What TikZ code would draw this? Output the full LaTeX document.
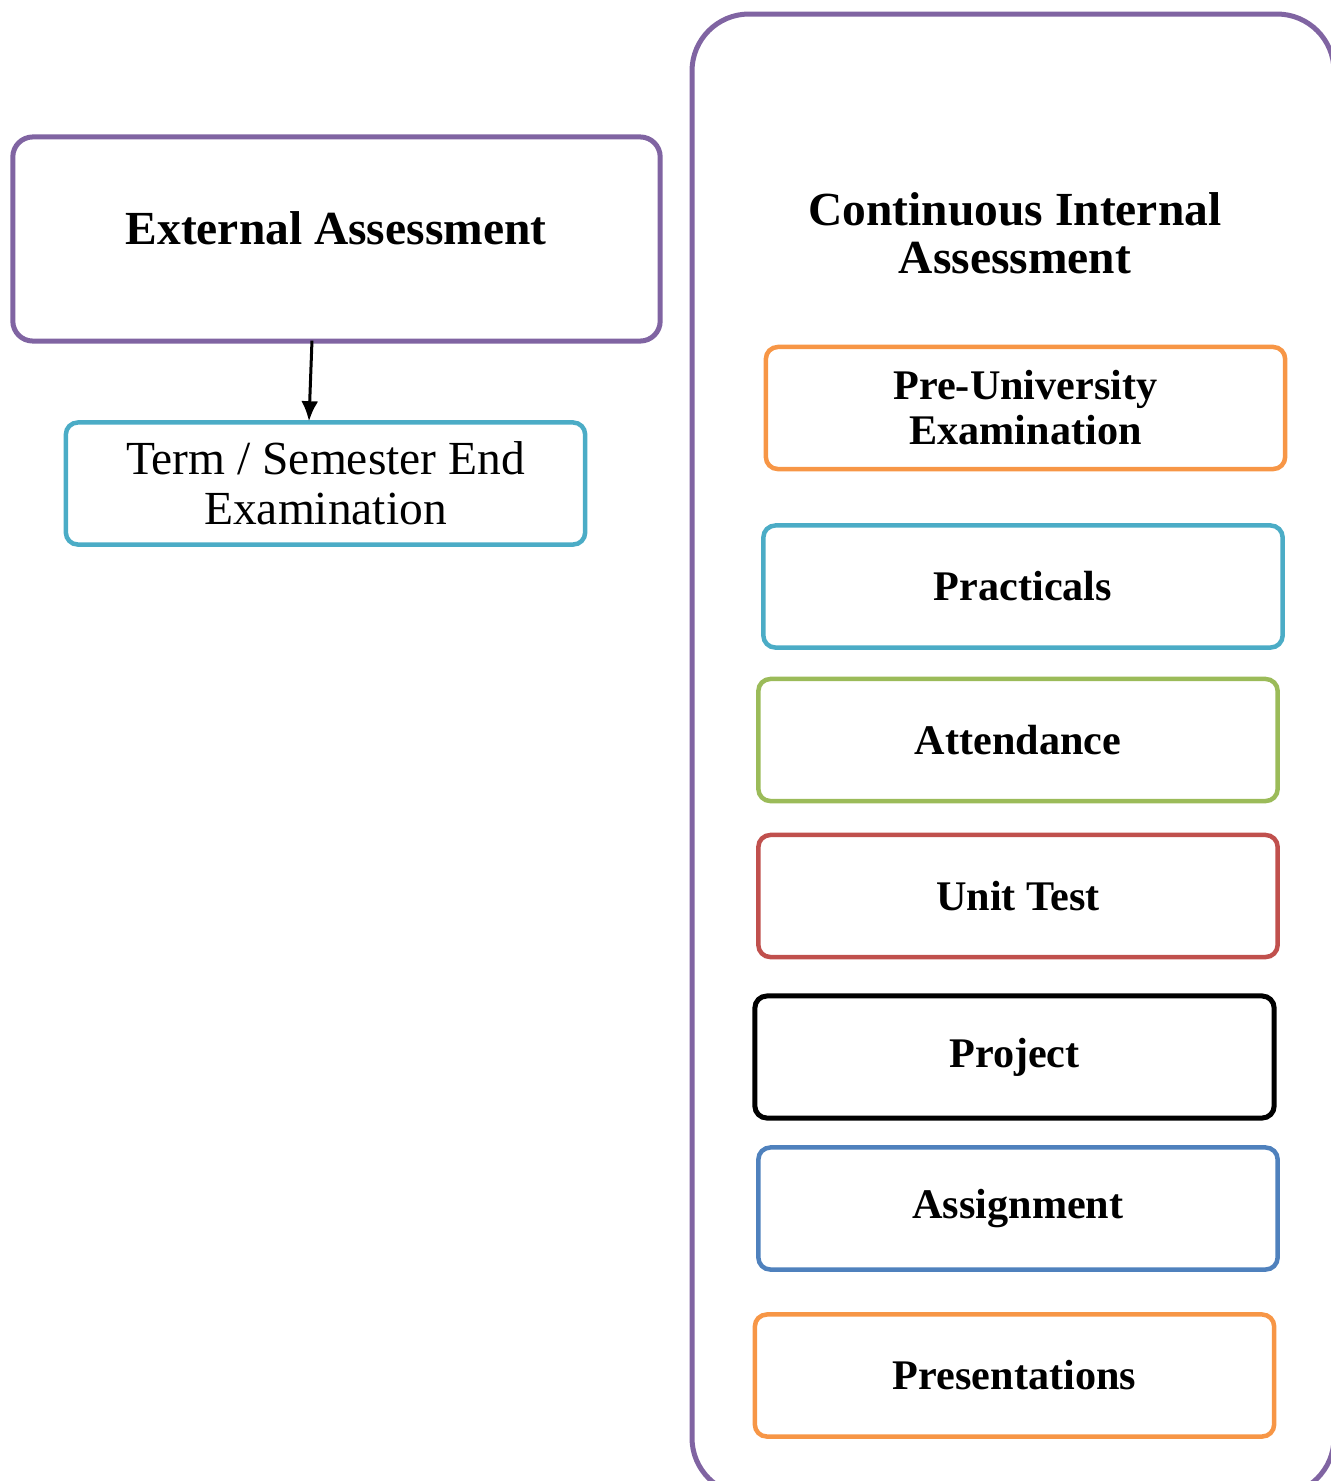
\documentclass[tikz,border=0pt]{standalone}
\usepackage{fontspec}
\setmainfont{Liberation Serif}
\usetikzlibrary{positioning, arrows.meta}
\definecolor{cpurple}{HTML}{8064A2}
\definecolor{ccyan}{HTML}{4BACC6}
\definecolor{corange}{HTML}{F79646}
\definecolor{cgreen}{HTML}{9BBB59}
\definecolor{cred}{HTML}{C0504D}
\definecolor{cblue}{HTML}{4F81BD}

\begin{document}
\begin{tikzpicture}[x=0.01cm, y=-0.01cm,
		outerbox/.style={draw=cpurple, line width=0.05cm, rounded corners=0.2cm, minimum width=6.47cm, minimum height=2.04cm},
		itembox/.style={draw=#1, line width=0.045cm, rounded corners=0.12cm, minimum width=5.19cm, minimum height=1.22cm, align=center, font=\fontsize{12}{12.8}\selectfont\bfseries},
		head/.style={align=center, font=\fontsize{13.5}{13.7}\selectfont\bfseries}]
		      \useasboundingbox (0,0) rectangle (1331,1481);
		      \node[outerbox] (ext) at (336.5,239) {};
		      \node[head] (exthead) at (336,228) {External Assessment};
		      \node[itembox=ccyan, font=\fontsize{13.5}{14.2}\selectfont] (term) at (325.5,483.5) {Term / Semester End\\Examination};
		      \draw[-{Latex[length=0.2cm, width=0.17cm]}, line width=0.03cm] ([xshift=-0.245cm, yshift=0.03cm]ext.south) -- ([xshift=-0.165cm, yshift=-0.01cm]term.north);

		      \draw[cpurple, line width=0.05cm, rounded corners=0.57cm] (692,14) rectangle (1334,1495);
		      \node[head] (cia) at (1015,233) {Continuous Internal\\Assessment};
		      \node[itembox=corange] (preuni) at (1025.5,408) {Pre-University\\Examination};
		      \node[itembox=ccyan] (prac) at (1023,586.5) {Practicals};
		      \node[itembox=cgreen] (attend) at (1018,740) {Attendance};
		      \node[itembox=cred] (unit) at (1018,896) {Unit Test};
		      \node[itembox=black, line width=0.05cm] (proj) at (1014.5,1057) {Project};
		      \node[itembox=cblue] (assign) at (1018,1208.5) {Assignment};
		      \node[itembox=corange] (present) at (1014.5,1375.5) {Presentations};

	      \end{tikzpicture}
\end{document}
